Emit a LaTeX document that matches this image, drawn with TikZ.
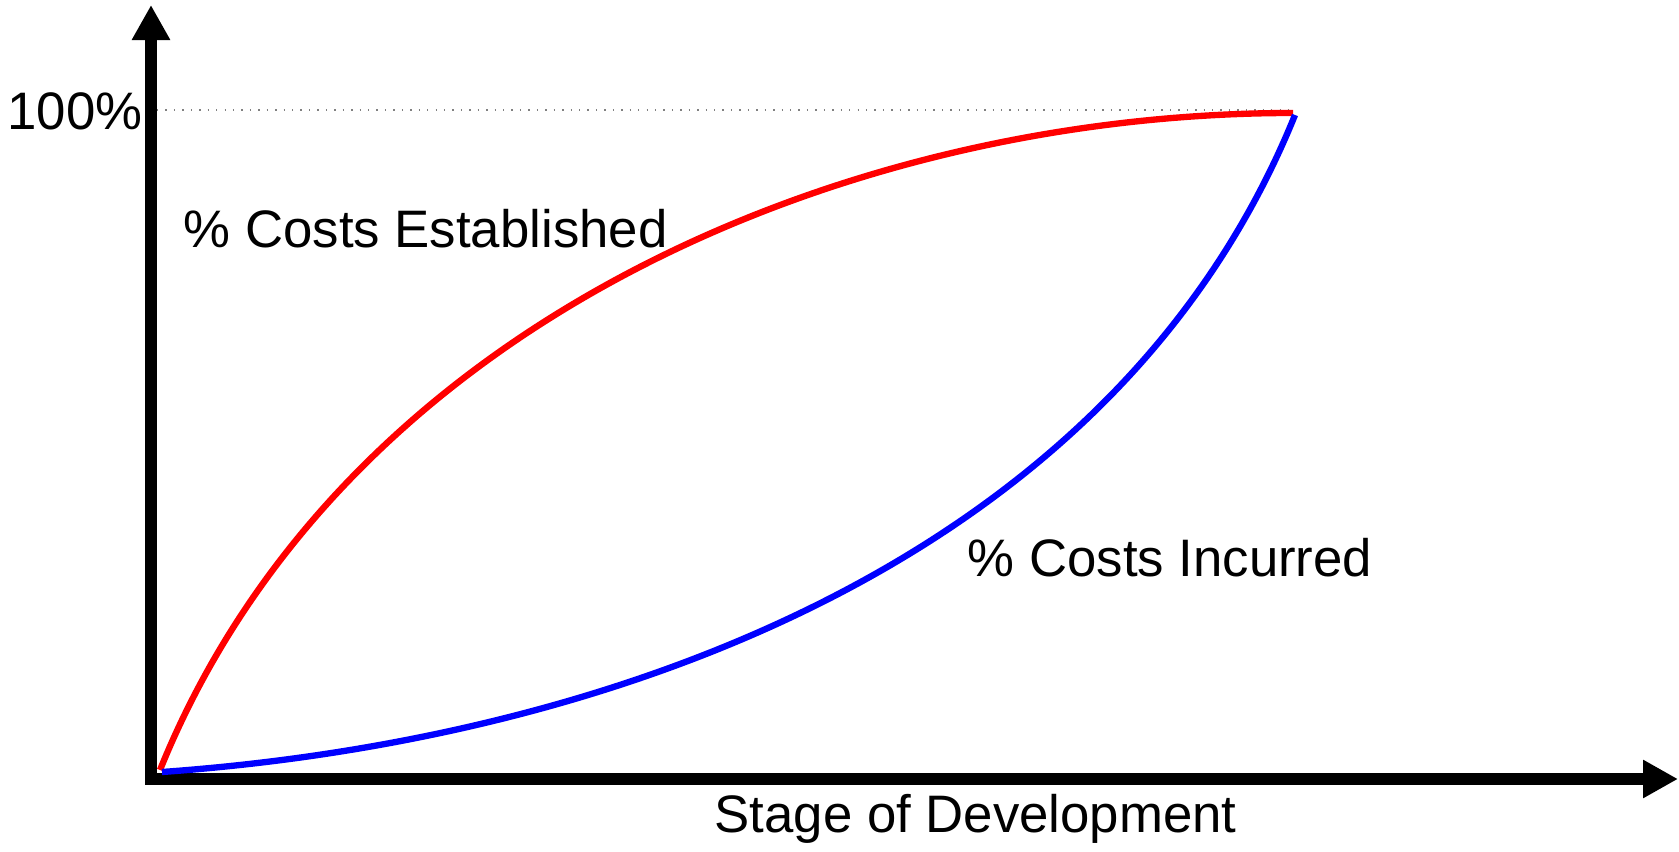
\documentclass[tikz,border=0pt]{standalone}
\usepackage{fontspec}
\setmainfont{Liberation Sans}
\usetikzlibrary{arrows.meta}

\tikzset{
  axis/.style={line width=3.4pt, -{Triangle[length=0.35cm,width=0.36cm]}},
  curve/.style={line width=1.8pt},
  lbl/.style={inner sep=0pt, font=\fontsize{15}{18}\selectfont}
}

\begin{document}
\begin{tikzpicture}[x=.01cm,y=.01cm]
  \useasboundingbox (0,0) rectangle (1679,852);
  % axes
  \coordinate (yb) at (151,67);
  \coordinate (yt) at (151,847);
  \coordinate (xl) at (145,73);
  \coordinate (xt) at (1678,73);
  \draw[axis] (yb) -- (yt);
  \draw[axis] (xl) -- (xt);

  % 100% level
  \node[lbl, anchor=base east] (top) at (143,722) {100\%};
  \coordinate (d0) at (157,742);
  \coordinate (d1) at (1293,742);
  \draw[gray, dotted, line width=.4pt] (d0) -- (d1);

  % curves
  \coordinate (r0) at (160,82);
  \coordinate (r3) at (1293,739);
  \coordinate (b0) at (162,80);
  \coordinate (b3) at (1295,737);
  \draw[curve, red] (r0) .. controls (340,527) and (843,739) .. (r3);
  \draw[curve, blue] (b0) .. controls (612,112) and (1115,292) .. (b3);

  \node[lbl, anchor=base west] (est) at (183,604) {\% Costs Established};
  \node[lbl, anchor=base west] (inc) at (967,275) {\% Costs Incurred};
  \node[lbl, anchor=base west] (stage) at (714,19) {Stage of Development};
\end{tikzpicture}
\end{document}
